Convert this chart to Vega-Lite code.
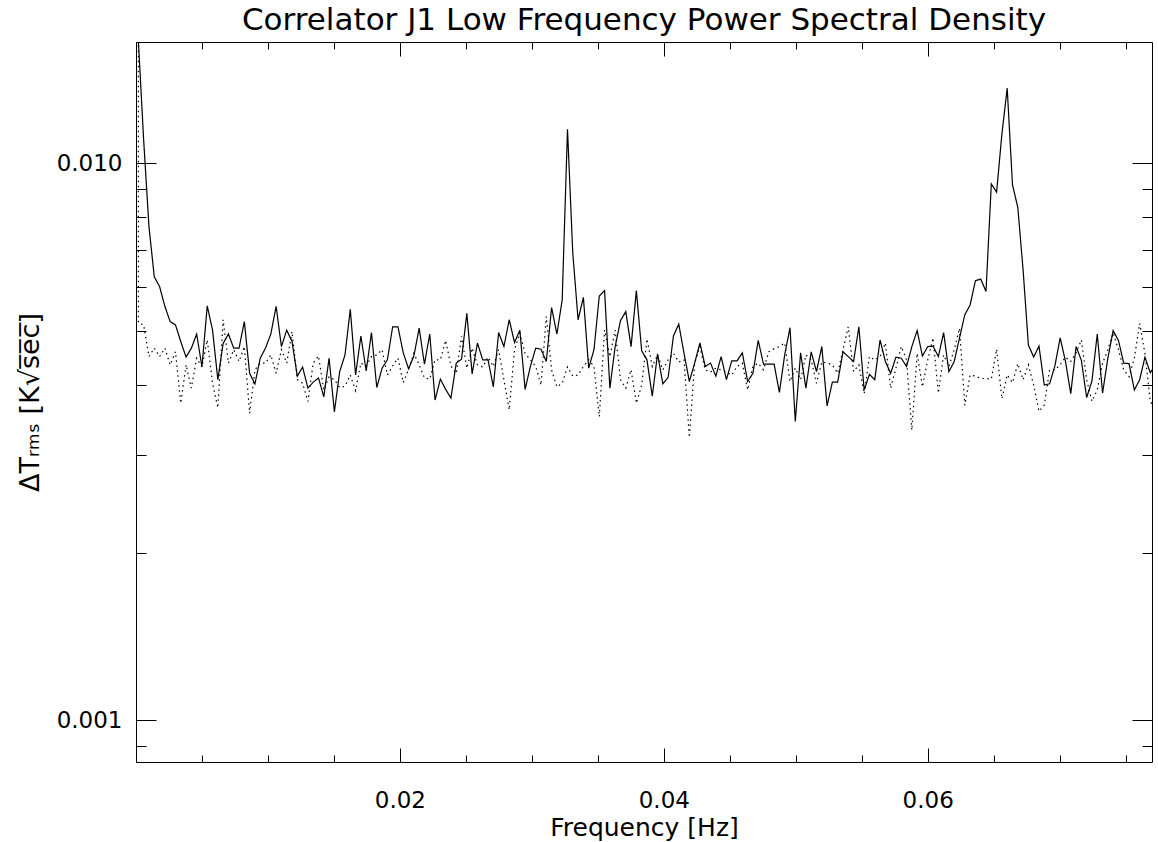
{
"$schema": "https://vega.github.io/schema/vega-lite/v6.json",
"width": 1016, "height": 720,
"autosize": "none",
"padding": {"left": 136, "top": 42, "right": 6, "bottom": 80},
"background": "white",
"config": {"view": {"stroke": null}, "font": "DejaVu Sans",
  "axis": {"grid": false, "domainColor": "black", "tickColor": "black", "labelColor": "black", "titleColor": "black", "domainWidth": 1, "tickWidth": 1, "labelFont": "DejaVu Sans", "titleFont": "DejaVu Sans", "labelFontSize": 23, "titleFontSize": 25, "titleFontWeight": "normal"}},
"title": {"text": "Correlator J1 Low Frequency Power Spectral Density", "font": "DejaVu Sans", "fontSize": 31, "fontWeight": "normal", "color": "black", "baseline": "alphabetic", "offset": 9, "dy": 32},
"data": {"values": [
{"f":0.00018,"d":0.0166},
{"f":0.00018,"s":0.0166,"d":0.00517},
{"f":0.000582,"s":0.0110,"d":0.00513},
{"f":0.000983,"s":0.0077,"d":0.00450},
{"f":0.001385,"s":0.00626,"d":0.00466},
{"f":0.001786,"s":0.00601,"d":0.00450},
{"f":0.002188,"s":0.00554,"d":0.00466},
{"f":0.002589,"s":0.00520,"d":0.00435},
{"f":0.002991,"s":0.00513,"d":0.00459},
{"f":0.003392,"s":0.00479,"d":0.00371},
{"f":0.003794,"s":0.00449,"d":0.00435},
{"f":0.004195,"s":0.00466,"d":0.00395},
{"f":0.004597,"s":0.00494,"d":0.00447},
{"f":0.004998,"s":0.00431,"d":0.00431},
{"f":0.005400,"s":0.00555,"d":0.00482},
{"f":0.005801,"s":0.00502,"d":0.00403},
{"f":0.006203,"s":0.00409,"d":0.00364},
{"f":0.006604,"s":0.00475,"d":0.00524},
{"f":0.007006,"s":0.00494,"d":0.00438},
{"f":0.007407,"s":0.00466,"d":0.00463},
{"f":0.007809,"s":0.00466,"d":0.00441},
{"f":0.008210,"s":0.00520,"d":0.00469},
{"f":0.008612,"s":0.00420,"d":0.00356},
{"f":0.009013,"s":0.00402,"d":0.00426},
{"f":0.009415,"s":0.00447,"d":0.00438},
{"f":0.009816,"s":0.00466,"d":0.00438},
{"f":0.010218,"s":0.00494,"d":0.00453},
{"f":0.010619,"s":0.00554,"d":0.00420},
{"f":0.011021,"s":0.00469,"d":0.00463},
{"f":0.011422,"s":0.00502,"d":0.00438},
{"f":0.011824,"s":0.00479,"d":0.00499},
{"f":0.012225,"s":0.00415,"d":0.00409},
{"f":0.012627,"s":0.00431,"d":0.00403},
{"f":0.013028,"s":0.00395,"d":0.00374},
{"f":0.013430,"s":0.00405,"d":0.00438},
{"f":0.013831,"s":0.00412,"d":0.00451},
{"f":0.014233,"s":0.00381,"d":0.00392},
{"f":0.014634,"s":0.00447,"d":0.00414},
{"f":0.015036,"s":0.00358,"d":0.00409},
{"f":0.015437,"s":0.00423,"d":0.00396},
{"f":0.015839,"s":0.00453,"d":0.00398},
{"f":0.016240,"s":0.00547,"d":0.00417},
{"f":0.016642,"s":0.00417,"d":0.00391},
{"f":0.017043,"s":0.00490,"d":0.00438},
{"f":0.017445,"s":0.00424,"d":0.00433},
{"f":0.017846,"s":0.00497,"d":0.00450},
{"f":0.018248,"s":0.00396,"d":0.00453},
{"f":0.018649,"s":0.00429,"d":0.00463},
{"f":0.019051,"s":0.00444,"d":0.00417},
{"f":0.019452,"s":0.00509,"d":0.00433},
{"f":0.019854,"s":0.00509,"d":0.00447},
{"f":0.020255,"s":0.00457,"d":0.00404},
{"f":0.020657,"s":0.00428,"d":0.00427},
{"f":0.021058,"s":0.00451,"d":0.00456},
{"f":0.021460,"s":0.00506,"d":0.00435},
{"f":0.021861,"s":0.00436,"d":0.00412},
{"f":0.022263,"s":0.00494,"d":0.00410},
{"f":0.022664,"s":0.00376,"d":0.00444},
{"f":0.023066,"s":0.00410,"d":0.00444},
{"f":0.023467,"s":0.00393,"d":0.00481},
{"f":0.023869,"s":0.00379,"d":0.00433},
{"f":0.024270,"s":0.00438,"d":0.00420},
{"f":0.024672,"s":0.00445,"d":0.00489},
{"f":0.025073,"s":0.00538,"d":0.00429},
{"f":0.025475,"s":0.00419,"d":0.00466},
{"f":0.025876,"s":0.00476,"d":0.00435},
{"f":0.026278,"s":0.00444,"d":0.00431},
{"f":0.026679,"s":0.00444,"d":0.00449},
{"f":0.027081,"s":0.00397,"d":0.00432},
{"f":0.027482,"s":0.00497,"d":0.00463},
{"f":0.027884,"s":0.00469,"d":0.00409},
{"f":0.028285,"s":0.00524,"d":0.00361},
{"f":0.028687,"s":0.00477,"d":0.00463},
{"f":0.029088,"s":0.00502,"d":0.00496},
{"f":0.029490,"s":0.00393,"d":0.00456},
{"f":0.029891,"s":0.00432,"d":0.00444},
{"f":0.030293,"s":0.00466,"d":0.00432},
{"f":0.030694,"s":0.00464,"d":0.00400},
{"f":0.031096,"s":0.00441,"d":0.00531},
{"f":0.031497,"s":0.00551,"d":0.00426},
{"f":0.031899,"s":0.00494,"d":0.00397},
{"f":0.032300,"s":0.00569,"d":0.00403},
{"f":0.032702,"s":0.01152,"d":0.00431},
{"f":0.033103,"s":0.00690,"d":0.00415},
{"f":0.033505,"s":0.00524,"d":0.00417},
{"f":0.033906,"s":0.00575,"d":0.00432},
{"f":0.034308,"s":0.00429,"d":0.00444},
{"f":0.034709,"s":0.00463,"d":0.00432},
{"f":0.035111,"s":0.00578,"d":0.00351},
{"f":0.035512,"s":0.00591,"d":0.00502},
{"f":0.035914,"s":0.00395,"d":0.00450},
{"f":0.036315,"s":0.00469,"d":0.00502},
{"f":0.036717,"s":0.00522,"d":0.00409},
{"f":0.037118,"s":0.00542,"d":0.00395},
{"f":0.037520,"s":0.00469,"d":0.00426},
{"f":0.037921,"s":0.00591,"d":0.00371},
{"f":0.038323,"s":0.00461,"d":0.00400},
{"f":0.038724,"s":0.00444,"d":0.00484},
{"f":0.039126,"s":0.00382,"d":0.00432},
{"f":0.039527,"s":0.00455,"d":0.00453},
{"f":0.039929,"s":0.00402,"d":0.00426},
{"f":0.040330,"s":0.00413,"d":0.00444},
{"f":0.040732,"s":0.00490,"d":0.00456},
{"f":0.041133,"s":0.00515,"d":0.00440},
{"f":0.041535,"s":0.00456,"d":0.00444},
{"f":0.041936,"s":0.00406,"d":0.00322},
{"f":0.042338,"s":0.00438,"d":0.00438},
{"f":0.042739,"s":0.00476,"d":0.00469},
{"f":0.043141,"s":0.00432,"d":0.00426},
{"f":0.043542,"s":0.00438,"d":0.00422},
{"f":0.043944,"s":0.00415,"d":0.00429},
{"f":0.044345,"s":0.00450,"d":0.00426},
{"f":0.044747,"s":0.00409,"d":0.00422},
{"f":0.045148,"s":0.00442,"d":0.00417},
{"f":0.045550,"s":0.00442,"d":0.00432},
{"f":0.045951,"s":0.00457,"d":0.00438},
{"f":0.046353,"s":0.00406,"d":0.00392},
{"f":0.046754,"s":0.00420,"d":0.00432},
{"f":0.047156,"s":0.00481,"d":0.00438},
{"f":0.047557,"s":0.00436,"d":0.00426},
{"f":0.047959,"s":0.00436,"d":0.00459},
{"f":0.048360,"s":0.00436,"d":0.00465},
{"f":0.048762,"s":0.00388,"d":0.00469},
{"f":0.049163,"s":0.00453,"d":0.00476},
{"f":0.049565,"s":0.00507,"d":0.00406},
{"f":0.049966,"s":0.00344,"d":0.00429},
{"f":0.050368,"s":0.00457,"d":0.00409},
{"f":0.050769,"s":0.00395,"d":0.00453},
{"f":0.051171,"s":0.00459,"d":0.00444},
{"f":0.051572,"s":0.00423,"d":0.00403},
{"f":0.051974,"s":0.00469,"d":0.00440},
{"f":0.052375,"s":0.00367,"d":0.00438},
{"f":0.052777,"s":0.00405,"d":0.00435},
{"f":0.053178,"s":0.00405,"d":0.00420},
{"f":0.053580,"s":0.00459,"d":0.00463},
{"f":0.053981,"s":0.00450,"d":0.00509},
{"f":0.054383,"s":0.00441,"d":0.00423},
{"f":0.054784,"s":0.00509,"d":0.00435},
{"f":0.055186,"s":0.00392,"d":0.00386},
{"f":0.055587,"s":0.00418,"d":0.00450},
{"f":0.055989,"s":0.00409,"d":0.00444},
{"f":0.056390,"s":0.00482,"d":0.00450},
{"f":0.056792,"s":0.00441,"d":0.00476},
{"f":0.057193,"s":0.00420,"d":0.00395},
{"f":0.057595,"s":0.00449,"d":0.00429},
{"f":0.057996,"s":0.00447,"d":0.00469},
{"f":0.058398,"s":0.00432,"d":0.00444},
{"f":0.058799,"s":0.00469,"d":0.00332},
{"f":0.059201,"s":0.00501,"d":0.00456},
{"f":0.059602,"s":0.00451,"d":0.00397},
{"f":0.060004,"s":0.00469,"d":0.00444},
{"f":0.060405,"s":0.00470,"d":0.00486},
{"f":0.060807,"s":0.00450,"d":0.00387},
{"f":0.061208,"s":0.00497,"d":0.00453},
{"f":0.061610,"s":0.00423,"d":0.00432},
{"f":0.062011,"s":0.00441,"d":0.00463},
{"f":0.062413,"s":0.00486,"d":0.00506},
{"f":0.062814,"s":0.00535,"d":0.00368},
{"f":0.063216,"s":0.00557,"d":0.00417},
{"f":0.063617,"s":0.00616,"d":0.00415},
{"f":0.064019,"s":0.00620,"d":0.00411},
{"f":0.064420,"s":0.00589,"d":0.00411},
{"f":0.064822,"s":0.00919,"d":0.00410},
{"f":0.065223,"s":0.00888,"d":0.00464},
{"f":0.065625,"s":0.01130,"d":0.00378},
{"f":0.066026,"s":0.01365,"d":0.00417},
{"f":0.066428,"s":0.00915,"d":0.00404},
{"f":0.066829,"s":0.00834,"d":0.00437},
{"f":0.067231,"s":0.00644,"d":0.00409},
{"f":0.067632,"s":0.00472,"d":0.00435},
{"f":0.068034,"s":0.00449,"d":0.00400},
{"f":0.068435,"s":0.00470,"d":0.00359},
{"f":0.068837,"s":0.00400,"d":0.00368},
{"f":0.069238,"s":0.00402,"d":0.00426},
{"f":0.069640,"s":0.00433,"d":0.00426},
{"f":0.070041,"s":0.00486,"d":0.00435},
{"f":0.070443,"s":0.00441,"d":0.00449},
{"f":0.070844,"s":0.00386,"d":0.00441},
{"f":0.071246,"s":0.00469,"d":0.00457},
{"f":0.071647,"s":0.00443,"d":0.00482},
{"f":0.072049,"s":0.00380,"d":0.00409},
{"f":0.072450,"s":0.00407,"d":0.00374},
{"f":0.072852,"s":0.00494,"d":0.00392},
{"f":0.073253,"s":0.00387,"d":0.00438},
{"f":0.073655,"s":0.00447,"d":0.00463},
{"f":0.074056,"s":0.00501,"d":0.00496},
{"f":0.074458,"s":0.00481,"d":0.00463},
{"f":0.074859,"s":0.00438,"d":0.00426},
{"f":0.075261,"s":0.00437,"d":0.00414},
{"f":0.075662,"s":0.00392,"d":0.00447},
{"f":0.076064,"s":0.00409,"d":0.00516},
{"f":0.076465,"s":0.00449,"d":0.00456},
{"f":0.076867,"s":0.00421,"d":0.00374},
{"f":0.077268,"s":0.00435,"d":0.00361}
]},
"layer": [
{"mark": {"type": "line", "color": "black", "strokeWidth": 1.2, "clip": true},
 "encoding": {
  "x": {"field": "f", "type": "quantitative", "scale": {"domain": [0, 0.077], "nice": false, "zero": false},
        "axis": {"orient": "bottom", "values": [0, 0.02, 0.04, 0.06], "labelExpr": "datum.value < 0.01 ? '' : format(datum.value, '.2f')", "tickSize": -14, "labelPadding": 41, "title": "Frequency [Hz]", "titlePadding": 3}},
  "y": {"field": "s", "type": "quantitative", "scale": {"type": "log", "domain": [0.000842, 0.01652], "nice": false},
        "axis": {"orient": "left", "values": [0.001, 0.01], "format": ".3f", "tickSize": -20, "labelPadding": 34, "title": "ΔTᵣₘₛ    [K√s̅e̅c̅]", "titleFontSize": 27, "titlePadding": 12}}
 }},
{"mark": {"type": "line", "color": "black", "strokeWidth": 1.2, "strokeDash": [1.5, 3.5], "clip": true},
 "encoding": {
  "x": {"field": "f", "type": "quantitative", "scale": {"domain": [0, 0.077], "nice": false, "zero": false},
        "axis": {"orient": "bottom", "values": [0.005, 0.01, 0.015, 0.025, 0.03, 0.035, 0.045, 0.05, 0.055, 0.065, 0.07, 0.075], "labels": false, "domain": false, "tickSize": -7, "title": null}},
  "y": {"field": "d", "type": "quantitative", "scale": {"type": "log", "domain": [0.000842, 0.01652], "nice": false},
        "axis": {"orient": "left", "values": [0.0009, 0.002, 0.003, 0.004, 0.005, 0.006, 0.007, 0.008, 0.009], "labels": false, "domain": false, "tickSize": -10, "title": null}}
 }},
{"mark": {"type": "point", "opacity": 0},
 "encoding": {
  "x": {"field": "f", "type": "quantitative", "scale": {"domain": [0, 0.077], "nice": false, "zero": false},
        "axis": {"orient": "top", "values": [0, 0.02, 0.04, 0.06], "labels": false, "tickSize": -14, "title": null}},
  "y": {"field": "s", "type": "quantitative", "scale": {"type": "log", "domain": [0.000842, 0.01652], "nice": false},
        "axis": {"orient": "right", "values": [0.001, 0.01], "labels": false, "tickSize": -20, "title": null}}
 }},
{"mark": {"type": "point", "opacity": 0},
 "encoding": {
  "x": {"field": "f", "type": "quantitative", "scale": {"domain": [0, 0.077], "nice": false, "zero": false},
        "axis": {"orient": "top", "values": [0.005, 0.01, 0.015, 0.025, 0.03, 0.035, 0.045, 0.05, 0.055, 0.065, 0.07, 0.075], "labels": false, "domain": false, "tickSize": -7, "title": null}},
  "y": {"field": "s", "type": "quantitative", "scale": {"type": "log", "domain": [0.000842, 0.01652], "nice": false},
        "axis": {"orient": "right", "values": [0.0009, 0.002, 0.003, 0.004, 0.005, 0.006, 0.007, 0.008, 0.009], "labels": false, "domain": false, "tickSize": -10, "title": null}}
 }}
],
"resolve": {"axis": {"x": "independent", "y": "independent"}}
}
